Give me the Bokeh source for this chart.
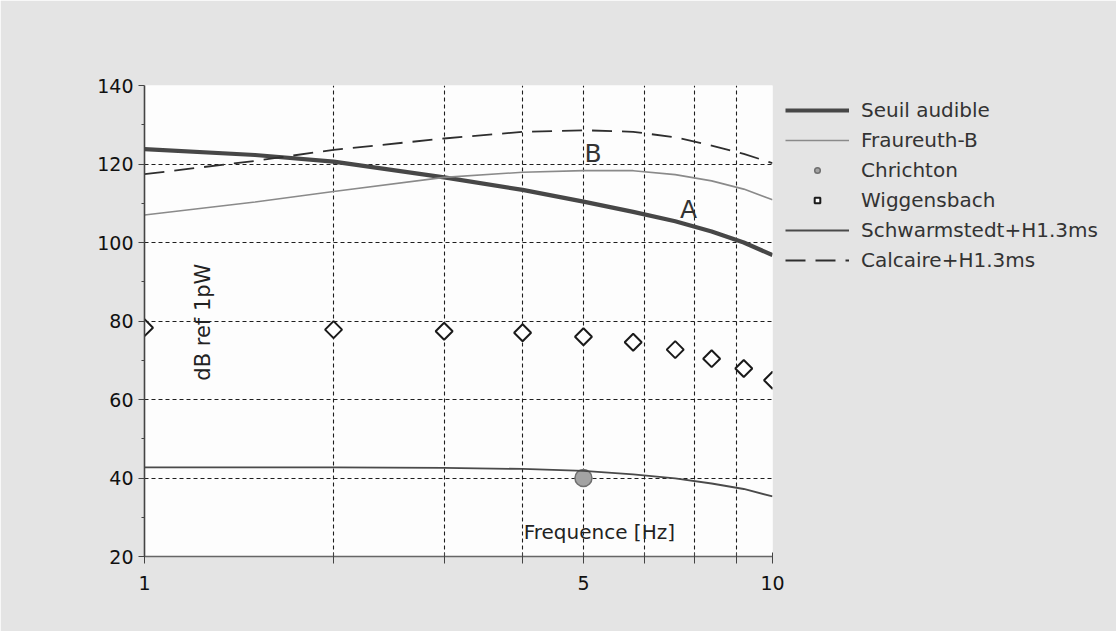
from bokeh.plotting import figure
from bokeh.models import (FixedTicker, CustomJSTickFormatter, Legend, LegendItem,
                          Label)
from bokeh.embed import file_html
from bokeh.resources import INLINE

# --- data -------------------------------------------------------------
freq = [1, 1.5, 2, 3, 4, 5, 6, 7, 8, 9, 10]
seuil_audible = [123.8, 122.3, 120.6, 116.6, 113.4, 110.4, 107.8, 105.4, 102.8, 100.0, 96.8]
fraureuth_b = [107.0, 110.3, 113.0, 116.6, 117.9, 118.3, 118.3, 117.3, 115.7, 113.6, 110.9]
schwarmstedt = [42.7, 42.7, 42.7, 42.6, 42.3, 41.8, 40.9, 39.9, 38.6, 37.2, 35.3]
calcaire = [117.4, 120.8, 123.6, 126.5, 128.2, 128.6, 128.2, 126.8, 124.7, 122.6, 120.2]

wigg_freq = [1, 2, 3, 4, 5, 6, 7, 8, 9, 10]
wiggensbach = [78.3, 77.8, 77.4, 77.0, 76.0, 74.6, 72.7, 70.4, 67.9, 64.9]

chrichton_freq = [5]
chrichton = [40.0]

x_grid_ticks = [1, 2, 3, 4, 5, 6.25, 7.5, 8.75, 10]
x_labelled = [1, 5, 10]
y_ticks = [20, 40, 60, 80, 100, 120, 140]
y_minor = [30, 50, 70, 90, 110, 130]

FONT = "DejaVu Sans"

p = figure(frame_width=628, frame_height=471, x_axis_type="log", x_range=(1, 10), y_range=(20, 140),
           output_backend="svg", toolbar_location=None,
           min_border_left=144, min_border_right=0, min_border_top=85, min_border_bottom=75)
p.border_fill_color = "#e4e4e4"
p.background_fill_color = "#fdfdfd"
p.outline_line_color = None

# axes
p.xaxis.ticker = FixedTicker(ticks=x_grid_ticks)
shown = ", ".join(str(v) for v in x_labelled)
p.xaxis.formatter = CustomJSTickFormatter(
    code=f"return [{shown}].includes(tick) ? String(tick) : ''")
p.yaxis.ticker = FixedTicker(ticks=y_ticks, minor_ticks=y_minor)

for ax in (p.xaxis[0], p.yaxis[0]):
    ax.major_label_text_font = FONT
    ax.major_label_text_font_size = "19px"
    ax.major_label_text_color = "#111111"
    ax.axis_line_color = "#444444"
    ax.major_tick_line_color = "#444444"
    ax.minor_tick_line_color = "#444444"
p.yaxis.axis_line_width = 1.6
p.yaxis.major_tick_in = 0
p.yaxis.major_tick_out = 6
p.yaxis.minor_tick_in = 0
p.yaxis.minor_tick_out = 3
p.yaxis.major_label_standoff = 5
p.xaxis.axis_line_color = "#666666"
p.xaxis.axis_line_width = 1.4
p.xaxis.major_tick_in = 4
p.xaxis.major_tick_out = 7
p.xaxis.minor_tick_line_color = None
p.xaxis.major_label_standoff = 12

for g in (p.xgrid[0], p.ygrid[0]):
    g.grid_line_color = "#1e1e1e"
    g.grid_line_dash = "4 3"
    g.grid_line_width = 1.1
    g.grid_line_alpha = 1.0

# series
r_seuil = p.line(freq, seuil_audible, line_color="#474747", line_width=4.2)
r_frau = p.line(freq, fraureuth_b, line_color="#8a8a8a", line_width=1.6)
r_chr = p.scatter(chrichton_freq, chrichton, marker="circle", size=17,
                  fill_color="#a3a3a3", line_color="#6f6f6f", line_width=1.5)
r_wig = p.scatter(wigg_freq, wiggensbach, marker="square", angle=0.785398, size=12,
                  fill_color="white", line_color="#1a1a1a", line_width=2)
r_sch = p.line(freq, schwarmstedt, line_color="#4a4a4a", line_width=1.8)
r_cal = p.line(freq, calcaire, line_color="#2e2e2e", line_width=1.8, line_dash="20 10")

# in-plot texts
p.add_layout(Label(x=1.237, y=79.7, text="dB ref 1pW", angle=1.5708,
                   text_align="center", text_baseline="middle",
                   text_font=FONT, text_font_size="21px", text_color="#222222"))
p.add_layout(Label(x=5.30, y=26.2, text="Frequence [Hz]",
                   text_align="center", text_baseline="middle",
                   text_font=FONT, text_font_size="20px", text_color="#222222"))
p.add_layout(Label(x=5.18, y=122.7, text="B", text_align="center", text_baseline="middle",
                   text_font=FONT, text_font_size="25px", text_color="#333333"))
p.add_layout(Label(x=7.35, y=108.3, text="A", text_align="center", text_baseline="middle",
                   text_font=FONT, text_font_size="25px", text_color="#333333"))

legend = Legend(items=[
    LegendItem(label="Seuil audible", renderers=[r_seuil]),
    LegendItem(label="Fraureuth-B", renderers=[r_frau]),
    LegendItem(label="Chrichton", renderers=[r_chr]),
    LegendItem(label="Wiggensbach", renderers=[r_wig]),
    LegendItem(label="Schwarmstedt+H1.3ms", renderers=[r_sch]),
    LegendItem(label="Calcaire+H1.3ms", renderers=[r_cal]),
], location="top_left", orientation="vertical")
legend.glyph_width = 64
legend.glyph_height = 14
legend.label_height = 14
legend.spacing = 6
legend.padding = 16
legend.margin = 13
legend.label_standoff = 12
legend.label_text_font = FONT
legend.label_text_font_size = "20px"
legend.label_text_color = "#333333"
legend.background_fill_alpha = 0
legend.border_line_color = None
p.add_layout(legend, "right")

open("out.html", "w").write(file_html(p, INLINE))
